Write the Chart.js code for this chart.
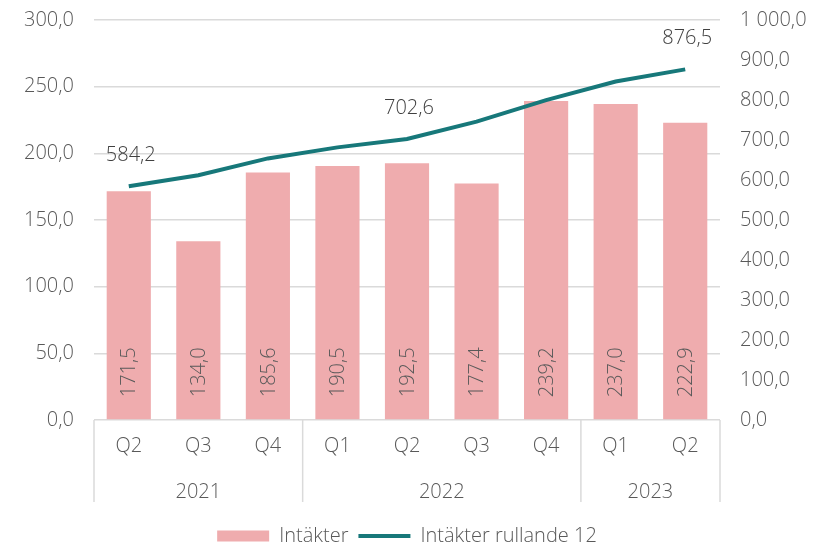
<!DOCTYPE html>
<html>
<head>
<meta charset="utf-8">
<script src="https://cdn.jsdelivr.net/npm/chart.js@4"></script>
<style>
  html, body { margin: 0; padding: 0; background: #fff; }
  #wrap { width: 814px; height: 547px; }
</style>
</head>
<body>
<div id="wrap"><canvas id="intakterChart" width="814" height="547"></canvas></div>
<script>
// data
const quarters = ['Q2', 'Q3', 'Q4', 'Q1', 'Q2', 'Q3', 'Q4', 'Q1', 'Q2'];
const quarterYears = ['2021', '2021', '2021', '2022', '2022', '2022', '2022', '2023', '2023'];
const intakter = [171.5, 134.0, 185.6, 190.5, 192.5, 177.4, 239.2, 237.0, 222.9];
const rullande12 = [584.2, 612.0, 654.0, 681.6, 702.6, 746.0, 799.6, 846.1, 876.5];
const labelledLinePoints = [0, 4, 8]; // only these get a value label

const FONT = "'Open Sans', 'Liberation Sans', sans-serif";
const TXT = '#595959';
const GRID = '#dadada';

function fmt(v) {
    return v.toLocaleString('sv-SE', { minimumFractionDigits: 1, maximumFractionDigits: 1 });
}

// tick padding ska inte trycka ner diagramytan
function fixYAxis(scale) {
    scale.width = 94;
    scale.paddingTop = 12;
    scale.paddingBottom = 12;
}

// värden i staplar + på linjen
const valueLabels = {
    id: 'valueLabels',
    afterDatasetsDraw(chart) {
        const ctx = chart.ctx;
        const barMeta = chart.getDatasetMeta(0);
        ctx.save();
        ctx.font = '300 20px ' + FONT;
        ctx.fillStyle = TXT;
        ctx.textAlign = 'left';
        ctx.textBaseline = 'middle';
        barMeta.data.forEach((el, i) => {
            ctx.save();
            ctx.translate(el.x + 1, el.base - 22);
            ctx.rotate(-Math.PI / 2);
            ctx.fillText(fmt(intakter[i]), 0, 0);
            ctx.restore();
        });
        const lineMeta = chart.getDatasetMeta(1);
        ctx.fillStyle = '#404040';
        ctx.textAlign = 'center';
        labelledLinePoints.forEach(i => {
            const el = lineMeta.data[i];
            ctx.fillText(fmt(rullande12[i]), el.x + 2, el.y - 31);
        });
        ctx.restore();
    }
};

// år-grupper under kvartalen
const yearGroups = {
    id: 'yearGroups',
    afterDraw(chart) {
        const x = chart.scales.x;
        const ctx = chart.ctx;
        const half = (x.getPixelForValue(1) - x.getPixelForValue(0)) / 2;
        const top = chart.chartArea.bottom;
        const bottom = top + 82;
        ctx.save();
        ctx.strokeStyle = GRID;
        ctx.lineWidth = 1.5;
        ctx.font = '300 20px ' + FONT;
        ctx.fillStyle = TXT;
        ctx.textAlign = 'center';
        ctx.textBaseline = 'middle';
        let start = 0;
        for (let i = 1; i <= quarterYears.length; i++) {
            if (i === quarterYears.length || quarterYears[i] !== quarterYears[start]) {
                const left = x.getPixelForValue(start) - half;
                const right = x.getPixelForValue(i - 1) + half;
                ctx.beginPath();
                ctx.moveTo(left, top);
                ctx.lineTo(left, bottom);
                if (i === quarterYears.length) {
                    ctx.moveTo(right, top);
                    ctx.lineTo(right, bottom);
                }
                ctx.stroke();
                ctx.fillText(quarterYears[start], (left + right) / 2, top + 72);
                start = i;
            }
        }
        ctx.restore();
    }
};

const ctx = document.getElementById('intakterChart').getContext('2d');

new Chart(ctx, {
    data: {
        labels: quarters,
        datasets: [
            {
                type: 'bar',
                label: 'Intäkter',
                data: intakter,
                yAxisID: 'y',
                backgroundColor: '#efacae',
                borderWidth: 0,
                barPercentage: 0.635,
                categoryPercentage: 1,
                pointStyle: 'rect',
                order: 2
            },
            {
                type: 'line',
                label: 'Intäkter rullande 12',
                data: rullande12,
                yAxisID: 'y1',
                borderColor: '#17787a',
                backgroundColor: '#17787a',
                borderWidth: 4,
                pointRadius: 0,
                pointStyle: 'line',
                tension: 0,
                order: 1
            }
        ]
    },
    options: {
        responsive: false,
        animation: false,
        layout: { padding: { top: 20, left: 0, right: 0, bottom: -9 } },
        plugins: {
            tooltip: { enabled: false },
            legend: {
                position: 'bottom',
                labels: {
                    usePointStyle: true,
                    pointStyleWidth: 52,
                    boxHeight: 11,
                    padding: 10,
                    color: TXT,
                    font: { family: FONT, size: 20, weight: '300' },
                    sort: (a, b) => a.datasetIndex - b.datasetIndex
                }
            }
        },
        scales: {
            x: {
                grid: { display: false, drawTicks: false },
                border: { display: false },
                ticks: {
                    color: TXT,
                    padding: 14,
                    autoSkip: false,
                    maxRotation: 0,
                    font: { family: FONT, size: 20, weight: '300' }
                },
                afterFit(scale) { scale.height = 96; }
            },
            y: {
                position: 'left',
                min: 0,
                max: 300,
                grid: { color: GRID, lineWidth: 1.5, drawTicks: false },
                border: { display: false },
                ticks: {
                    stepSize: 50,
                    padding: 20,
                    color: TXT,
                    font: { family: FONT, size: 20, weight: '300' },
                    callback: v => fmt(v)
                },
                afterFit: fixYAxis
            },
            y1: {
                position: 'right',
                min: 0,
                max: 1000,
                grid: { display: false, drawTicks: false },
                border: { display: false },
                ticks: {
                    stepSize: 100,
                    padding: 20,
                    color: TXT,
                    font: { family: FONT, size: 20, weight: '300' },
                    callback: v => fmt(v)
                },
                afterFit: fixYAxis
            }
        }
    },
    plugins: [valueLabels, yearGroups]
});
</script>
</body>
</html>
